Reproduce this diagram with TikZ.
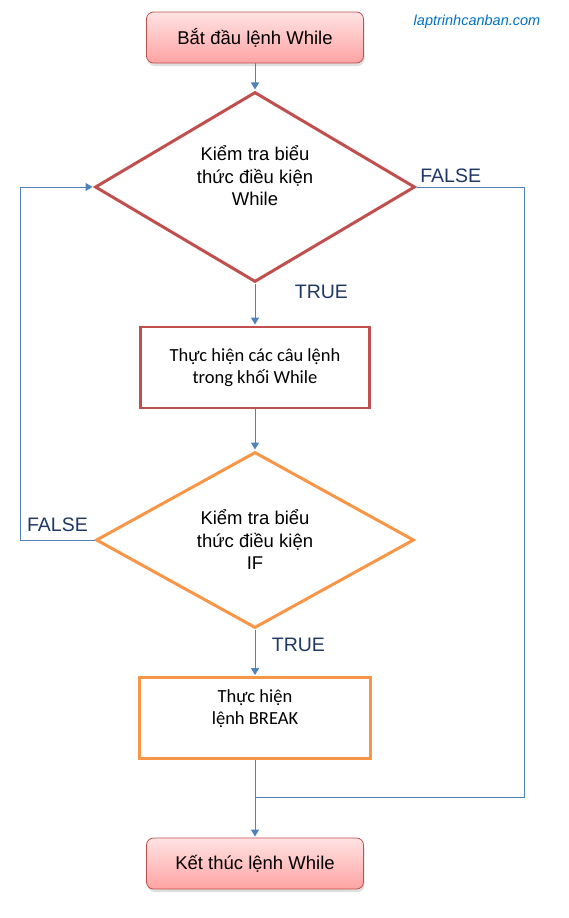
\documentclass[tikz,border=0pt]{standalone}
\usepackage{fontspec}
\setmainfont{Liberation Sans}
\newfontfamily\calibfont{Carlito}
\usepackage{xcolor}
\usetikzlibrary{shapes.geometric,shadows,arrows.meta,positioning}
\definecolor{wred}{HTML}{C0504D}
\definecolor{worange}{HTML}{F79646}
\definecolor{wblue}{HTML}{4F81BD}
\definecolor{wnavy}{HTML}{1F3864}
\definecolor{wlink}{HTML}{0070C0}
\definecolor{pinktop}{HTML}{FFE3E3}
\definecolor{pinkbot}{HTML}{FFA3A3}

\begin{document}
\begin{tikzpicture}[shorten >=1pt,>={Triangle[length=7pt,width=8pt]}]
  \tikzstyle{term}=[draw=wred, line width=0.8pt, rounded corners=7pt, top color=pinktop, bottom color=pinkbot, minimum width=217pt, minimum height=51pt, drop shadow={shadow xshift=1pt, shadow yshift=-3pt, opacity=0.25}, font=\fontsize{18.5}{22}\selectfont]
  \tikzstyle{test}=[diamond, aspect=1.7, line width=3pt, inner sep=0pt, align=center, font=\fontsize{18.5}{22.5}\selectfont]
  \tikzstyle{task}=[rectangle, line width=2.8pt, align=center, minimum width=229pt, minimum height=81pt, font=\calibfont\fontsize{18.5}{22}\selectfont]
  \tikzstyle{flag}=[text=wnavy, font=\fontsize{19.5}{23}\selectfont]
  \useasboundingbox (0,0) rectangle (568pt,-918pt);

  \node (site) at (477pt,-22pt) {\fontsize{14.5}{17}\selectfont\itshape\color{wlink}laptrinhcanban.com};
  \node (begin) [term] at (255pt,-37.5pt) {Bắt đầu lệnh While};
  \node (while) [test, draw=wred, minimum width=320pt, minimum height=190pt, node distance=149.5pt, below of=begin] {Kiểm tra biểu\\thức điều kiện\\While\\\mbox{}};
  \node (body) [task, draw=wred, node distance=180.5pt, below of=while] {Thực hiện các câu lệnh\\trong khối While};
  \node (if) [test, draw=worange, minimum width=318pt, minimum height=176pt, node distance=172.5pt, below of=body] {Kiểm tra biểu\\thức điều kiện\\IF};
  \node (brk) [task, draw=worange, minimum width=231pt, node distance=178pt, below of=if] {Thực hiện\\lệnh BREAK\\\mbox{}};
  \node (end) [term, node distance=145.5pt, below of=brk] {Kết thúc lệnh While};
  \coordinate [node distance=79pt, below of=brk] (join);

  \path[->, wblue, line width=1pt]
  (begin) edge node {} (while)
  (while) edge node [flag, pos=0.2, anchor=west, xshift=36pt] {TRUE} (body)
  (body) edge node {} (if)
  (if) edge node [flag, pos=0.33, anchor=west, xshift=13pt] {TRUE} (brk)
  (brk) edge node {} (end)
  ;
  \draw[->, wblue, line width=1pt] (if.west) -- node [flag, midway, above, yshift=4pt] {FALSE} ++(-74pt,0) |- (while.west);
  \draw[wblue, line width=1pt] (while.east) -- node [flag, pos=0, anchor=south west] {FALSE} ++(108pt,0) |- (join);
\end{tikzpicture}
\end{document}
